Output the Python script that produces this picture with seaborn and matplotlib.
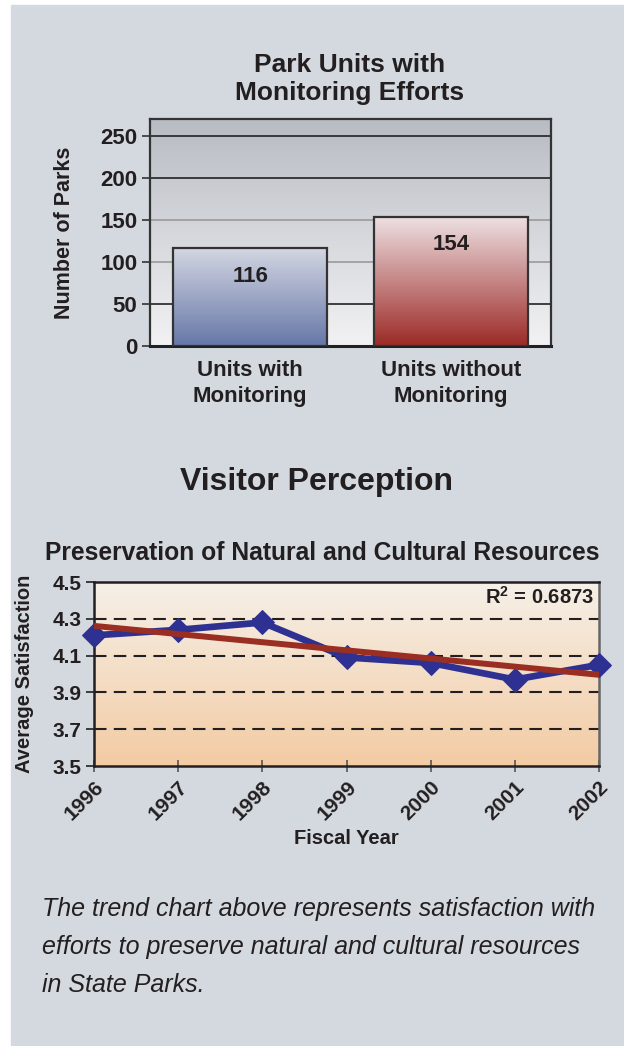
import numpy as np
import pandas as pd
import seaborn as sns
from matplotlib import pyplot as plt
from matplotlib.colors import to_rgb
from matplotlib.patches import Rectangle

# ---- data
units = ["Units with\nMonitoring", "Units without\nMonitoring"]
parks = [116, 154]

years = [1996, 1997, 1998, 1999, 2000, 2001, 2002]
satisfaction = [4.21, 4.24, 4.28, 4.09, 4.06, 3.97, 4.05]
r2_text = "R$^{\\mathbf{2}}$ = 0.6873"

caption_lines = ["The trend chart above represents satisfaction with",
                 "efforts to preserve natural and cultural resources",
                 "in State Parks."]

sns.set_style("white")
plt.rcParams['font.family'] = ['Liberation Sans', 'DejaVu Sans']
plt.rcParams['mathtext.fontset'] = 'custom'
plt.rcParams['mathtext.rm'] = 'Liberation Sans'
plt.rcParams['mathtext.bf'] = 'Liberation Sans:bold'
txt = '#231f20'


def gradient(top, bottom, n=256):
    t = np.linspace(0, 1, n)[:, None]
    a, b = np.array(to_rgb(top)), np.array(to_rgb(bottom))
    return (a * (1 - t) + b * t)[:, None, :]


fig = plt.figure(figsize=(6.24, 10.46), dpi=100)
fig.patches.append(Rectangle((11 / 624, 0), 1, 1 - 5 / 1046, transform=fig.transFigure,
                             color='#d3d9df', zorder=-10))

# ---------------- top chart
ax = fig.add_axes([150 / 624, 1 - 346 / 1046, 401 / 624, 227 / 1046])
df = pd.DataFrame({"Unit": units, "Parks": parks})
sns.barplot(data=df, x="Unit", y="Parks", ax=ax, width=0.77, color='white', zorder=3)
ax.imshow(gradient('#b8bcc3', '#f2f2f4'), extent=[0, 1, 0, 1], transform=ax.transAxes,
          aspect='auto', zorder=0)
bar_cols = [('#d3d7e2', '#6676a8'), ('#eee1e4', '#9c2a26')]
for p, (c1, c2) in zip(ax.patches, bar_cols):
    x0, y0, w, h = p.get_x(), p.get_y(), p.get_width(), p.get_height()
    im = ax.imshow(gradient(c1, c2), extent=[x0, x0 + w, y0, y0 + h], aspect='auto', zorder=3.5)
    im.set_clip_path(p)
    p.set_facecolor('none')
    p.set_edgecolor('#333333')
    p.set_linewidth(1.6)
    p.set_zorder(4)
ax.bar_label(ax.containers[0], labels=[str(v) for v in parks], padding=-28,
             fontsize=16, fontweight='bold', color=txt, zorder=5)
grid_cols = ['#222222', '#9a9a9a', '#9a9a9a', '#222222', '#222222']
for v, c in zip([50, 100, 150, 200, 250], grid_cols):
    ax.axhline(v, color=c, lw=1.2, zorder=1)
ax.set_xlim(-0.5, 1.5)
ax.set_ylim(0, 270)
ax.set_yticks([0, 50, 100, 150, 200, 250])
ax.set_xticks([-0.5, 0.5, 1.5], minor=True)
ax.tick_params(axis='x', which='major', length=0, pad=10, labelsize=16)
ax.tick_params(axis='x', which='minor', length=6, width=1.2, color='#333333', direction='out')
ax.tick_params(axis='y', length=6, width=1.2, color='#333333', direction='out', labelsize=16, pad=3)
ax.tick_params(bottom=True, left=True)
for lab in ax.get_xticklabels():
    lab.set_linespacing(1.3)
for lab in ax.get_xticklabels() + ax.get_yticklabels():
    lab.set_fontweight('bold')
    lab.set_color(txt)
for s in ax.spines.values():
    s.set_color('#333333')
    s.set_linewidth(1.6)
ax.spines['bottom'].set_color('#222222')
ax.spines['bottom'].set_linewidth(2.2)
ax.set_xlabel("")
ax.set_ylabel("Number of Parks", fontsize=15.5, fontweight='bold', color=txt)
ax.yaxis.set_label_coords(-0.187, 0.5)
fig.text(350 / 624, 1 - 79 / 1046, "Park Units with\nMonitoring Efforts", ha='center', va='center',
         fontsize=19, fontweight='bold', color=txt, linespacing=1.2)

# ---------------- bottom chart
fig.text(317 / 624, 1 - 482 / 1046, "Visitor Perception", ha='center', va='center',
         fontsize=23, fontweight='bold', color=txt)
fig.text(322 / 624, 1 - 553 / 1046, "Preservation of Natural and Cultural Resources", ha='center',
         va='center', fontsize=17.7, fontweight='bold', color=txt)

ax2 = fig.add_axes([94 / 624, 1 - 766 / 1046, 505 / 624, 184 / 1046])
ax2.imshow(gradient('#f6f0e8', '#f3cba3'), extent=[0, 1, 0, 1], transform=ax2.transAxes,
           aspect='auto', zorder=0)
for v in [3.7, 3.9, 4.1, 4.3]:
    ax2.axhline(v, color='#231f20', lw=1.5, dashes=(6, 3.5), zorder=1)
sns.lineplot(x=years, y=satisfaction, ax=ax2, color='#2e3192', lw=4.8, marker='D',
             markersize=12.5, markeredgecolor='#2e3192', clip_on=False, zorder=3)
sns.regplot(x=years, y=satisfaction, ax=ax2, ci=None, scatter=False,
            line_kws=dict(color='#9a2e22', lw=4.3, zorder=4, solid_capstyle='butt'))
ax2.set_xlim(1996, 2002)
ax2.set_ylim(3.5, 4.5)
ax2.set_xticks(years)
ax2.set_xticklabels([str(y) for y in years], rotation=45, ha='right', rotation_mode='anchor')
ax2.set_yticks([3.5, 3.7, 3.9, 4.1, 4.3, 4.5])
ax2.set_yticklabels([f"{v:.1f}" for v in [3.5, 3.7, 3.9, 4.1, 4.3, 4.5]])
ax2.tick_params(axis='x', length=8, width=1.2, color='#555555', direction='inout', labelsize=15, pad=4)
ax2.tick_params(axis='y', length=6, width=1.2, color='#231f20', direction='out', labelsize=15, pad=3)
ax2.tick_params(bottom=True, left=True)
for lab in ax2.get_xticklabels() + ax2.get_yticklabels():
    lab.set_fontweight('bold')
    lab.set_color(txt)
for s in ax2.spines.values():
    s.set_color('#231f20')
    s.set_linewidth(1.8)
ax2.spines['right'].set_color('#666666')
ax2.set_xlabel("Fiscal Year", fontsize=14.5, fontweight='bold', color=txt)
ax2.xaxis.set_label_coords(0.5, -0.345)
ax2.set_ylabel("Average Satisfaction", fontsize=14.5, fontweight='bold', color=txt)
ax2.yaxis.set_label_coords(-0.119, 0.5)
ax2.text(0.99, 0.918, r2_text, transform=ax2.transAxes, ha='right', va='center',
         fontsize=14.5, fontweight='bold', color=txt, zorder=5)

# ---------------- caption (no narrow face installed, so a smaller size keeps the width)
for i, line in enumerate(caption_lines):
    fig.text(42 / 624, 1 - (916 + 38 * i) / 1046, line, ha='left', va='baseline',
             fontsize=18, style='italic', color=txt)

fig.savefig("out.png", dpi=100)
